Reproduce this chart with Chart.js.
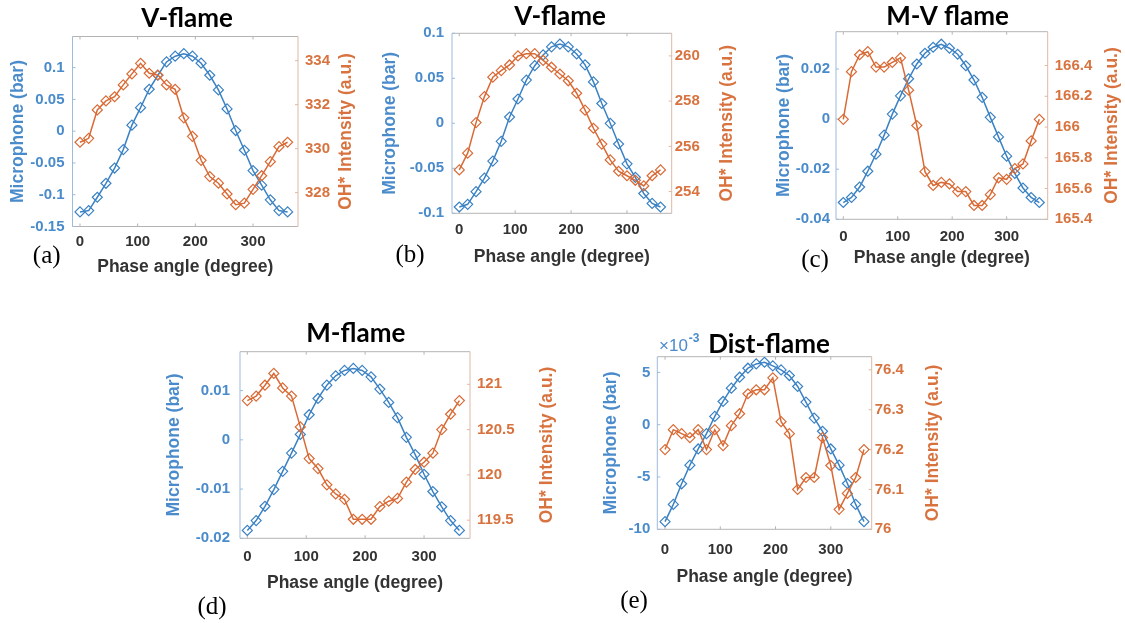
<!DOCTYPE html>
<html>
<head>
<meta charset="utf-8">
<script src="https://cdn.jsdelivr.net/npm/chart.js@4.4.1/dist/chart.umd.min.js"></script>
<style>
  html, body { margin: 0; padding: 0; background: #fff; }
  #wrap { position: relative; width: 1125px; height: 623px; overflow: hidden; background: #fff; }
  #wrap canvas { position: absolute; left: 0; top: 0; }
</style>
</head>
<body>
<div id="wrap">
  <canvas id="pa" width="1125" height="623"></canvas>
  <canvas id="pb" width="1125" height="623"></canvas>
  <canvas id="pc" width="1125" height="623"></canvas>
  <canvas id="pd" width="1125" height="623"></canvas>
  <canvas id="pe" width="1125" height="623"></canvas>
</div>
<script>
// Phase angles of the 25 samples over one acoustic cycle
const phaseDeg = [0, 15, 30, 45, 60, 75, 90, 105, 120, 135, 150, 165, 180, 195, 210, 225, 240, 255, 270, 285, 300, 315, 330, 345, 360];
const phaseTicks = [0, 100, 200, 300];

// (a) V-flame
const micA = [-0.127, -0.125, -0.104, -0.082, -0.058, -0.029, 0.0095, 0.037, 0.066, 0.088, 0.109, 0.118, 0.122, 0.118, 0.107, 0.088, 0.065, 0.035, 0.001, -0.030, -0.062, -0.085, -0.108, -0.125, -0.127];
const ohA = [330.29, 330.47, 331.76, 332.17, 332.36, 332.9, 333.4, 333.88, 333.43, 333.35, 332.9, 332.7, 331.4, 330.56, 329.47, 328.73, 328.43, 327.94, 327.45, 327.52, 328.15, 328.77, 329.41, 330.09, 330.29];
const micTicksA = [-0.15, -0.1, -0.05, 0, 0.05, 0.1];
const ohTicksA = [328, 330, 332, 334];

// (b) V-flame
const micB = [-0.093, -0.090, -0.076, -0.061, -0.042, -0.020, 0.007, 0.027, 0.048, 0.064, 0.076, 0.085, 0.088, 0.085, 0.077, 0.065, 0.046, 0.022, 0.0, -0.023, -0.045, -0.060, -0.078, -0.089, -0.093];
const ohB = [254.96, 255.7, 257.05, 258.2, 259.06, 259.35, 259.6, 260.0, 260.1, 260.1, 259.8, 259.5, 259.2, 258.9, 258.35, 257.6, 256.8, 256.1, 255.4, 254.9, 254.7, 254.5, 254.25, 254.7, 254.96];
const micTicksB = [-0.1, -0.05, 0, 0.05, 0.1];
const ohTicksB = [254, 256, 258, 260];

// (c) M-V flame
const micC = [-0.0333, -0.0313, -0.0271, -0.0208, -0.014, -0.0064, 0.002, 0.0093, 0.0161, 0.022, 0.0263, 0.0287, 0.0299, 0.0283, 0.0259, 0.0213, 0.0156, 0.0087, 0.0007, -0.0071, -0.0148, -0.0217, -0.0275, -0.0313, -0.0333];
const ohC = [166.05, 166.36, 166.47, 166.49, 166.39, 166.39, 166.42, 166.45, 166.24, 166.01, 165.71, 165.62, 165.64, 165.63, 165.58, 165.58, 165.49, 165.49, 165.56, 165.67, 165.66, 165.73, 165.76, 165.91, 166.05];
const micTicksC = [-0.04, -0.02, 0, 0.02];
const ohTicksC = [165.4, 165.6, 165.8, 166, 166.2, 166.4];

// (d) M-flame
const micD = [-0.0184, -0.0164, -0.0135, -0.0101, -0.0064, -0.0027, 0.0011, 0.0051, 0.0084, 0.0111, 0.0130, 0.0141, 0.0145, 0.0141, 0.0128, 0.0103, 0.0076, 0.0045, 0.0005, -0.0030, -0.0070, -0.0105, -0.0136, -0.0164, -0.0184];
const ohD = [120.82, 120.87, 120.99, 121.12, 120.96, 120.87, 120.53, 120.18, 120.07, 119.89, 119.79, 119.73, 119.51, 119.51, 119.51, 119.65, 119.71, 119.74, 119.92, 120.06, 120.14, 120.24, 120.50, 120.67, 120.82];
const micTicksD = [-0.02, -0.01, 0, 0.01];
const ohTicksD = [119.5, 120, 120.5, 121];

// (e) Dist-flame (microphone in bar, labelled in units of 1e-3)
const micE = [-0.00927, -0.00762, -0.00565, -0.00387, -0.00232, -0.00086, 0.00079, 0.00222, 0.00349, 0.00454, 0.00540, 0.00581, 0.00597, 0.00562, 0.00524, 0.00470, 0.00365, 0.00216, 0.00063, -0.00063, -0.00232, -0.00387, -0.00562, -0.00762, -0.00927];
const ohE = [76.20, 76.25, 76.24, 76.23, 76.25, 76.20, 76.25, 76.21, 76.26, 76.29, 76.34, 76.35, 76.35, 76.38, 76.27, 76.24, 76.10, 76.13, 76.13, 76.23, 76.16, 76.05, 76.09, 76.13, 76.20];
const micTicksE = [-0.01, -0.005, 0, 0.005];
const ohTicksE = [76, 76.1, 76.2, 76.3, 76.4];

const panelTitles = ['V-flame', 'V-flame', 'M-V flame', 'M-flame', 'Dist-flame'];
const panelTags = ['(a)', '(b)', '(c)', '(d)', '(e)'];

const W = 1125, H = 623;
const FONT = '"Liberation Sans", Arial, Helvetica, sans-serif';
const TITLE_FONT = 'Lato, "Open Sans", sans-serif';
const BLUE_LINE = '#3b82c4', ORANGE_LINE = '#d96a35';
const BLUE_TXT = '#4a8bcb', ORANGE_TXT = '#d8733f';
const GRAY_TXT = '#333333';
const FRAME_GRAY = '#b4b4b4', FRAME_BLUE = '#9dbbdb', FRAME_ORANGE = '#dcb9a4';

const panels = [
  { id: 'pa', mic: micA, oh: ohA, micTicks: micTicksA, ohTicks: ohTicksA, title: panelTitles[0], tag: panelTags[0],
    xLim: [-13, 378], micLim: [-0.15, 0.149], ohLim: [326.46, 335.1], micScale: 1,
    area: { l: 72.5, r: 298, t: 36.5, b: 226.5 }, outer: { l: 7.8, r: 356.8, b: 277.2 }, pad: { l: 8, r: 7, x: 6.2 },
    titlePos: [187, 27], tagPos: [46.7, 256.7] },
  { id: 'pb', mic: micB, oh: ohB, micTicks: micTicksB, ohTicks: ohTicksB, title: panelTitles[1], tag: panelTags[1],
    xLim: [-13, 380], micLim: [-0.1, 0.1], ohLim: [253.04, 261.0], micScale: 1,
    area: { l: 452, r: 671.7, t: 33.3, b: 213.3 }, outer: { l: 379.5, r: 737.5, b: 267.2 }, pad: { l: 8, r: 3, x: 7.7 },
    titlePos: [560, 25], tagPos: [410, 255] },
  { id: 'pc', mic: micC, oh: ohC, micTicks: micTicksC, ohTicks: ohTicksC, title: panelTitles[2], tag: panelTags[2],
    xLim: [-13.4, 375.4], micLim: [-0.04, 0.0349], ohLim: [165.4, 166.62], micScale: 1,
    area: { l: 836, r: 1047.7, t: 31.7, b: 219.3 }, outer: { l: 773.5, r: 1122.5, b: 268.8 }, pad: { l: 6, r: 7, x: 8.4 },
    titlePos: [947.5, 25], tagPos: [815, 260] },
  { id: 'pd', mic: micD, oh: ohD, micTicks: micTicksD, ohTicks: ohTicksD, title: panelTitles[3], tag: panelTags[3],
    xLim: [-12.4, 378], micLim: [-0.02, 0.0179], ohLim: [119.3, 121.36], micScale: 1,
    area: { l: 240, r: 470, t: 351.7, b: 538.3 }, outer: { l: 163.5, r: 557.5, b: 593.8 }, pad: { l: 10, r: 7, x: 9.4 },
    titlePos: [355.8, 341.7], tagPos: [212, 607.5] },
  { id: 'pe', mic: micE, oh: ohE, micTicks: micTicksE, ohTicks: ohTicksE, title: panelTitles[4], tag: panelTags[4],
    xLim: [-14, 374], micLim: [-0.01, 0.0065], ohLim: [76.0, 76.433], micScale: 1000,
    area: { l: 657.3, r: 871.7, t: 356.7, b: 529.3 }, outer: { l: 600.2, r: 943.5, b: 587.2 }, pad: { l: 7, r: 3, x: 11.7 },
    titlePos: [769, 353], tagPos: [634, 601.7], expPos: [659, 346] }
];

function strokeLine(ctx, x1, y1, x2, y2, color) {
  ctx.strokeStyle = color;
  ctx.beginPath();
  ctx.moveTo(x1, y1);
  ctx.lineTo(x2, y2);
  ctx.stroke();
}

// Axes box, inward tick marks, right-hand axis title, panel title, tag and exponent
const panelDecor = {
  id: 'panelDecor',
  beforeDatasetsDraw(chart, args, o) {
    const { ctx, chartArea: a, scales } = chart;
    ctx.save();
    ctx.lineWidth = 1;
    strokeLine(ctx, a.left, a.top, a.right, a.top, FRAME_GRAY);
    strokeLine(ctx, a.left, a.bottom, a.right, a.bottom, FRAME_GRAY);
    strokeLine(ctx, a.left, a.top, a.left, a.bottom, FRAME_BLUE);
    strokeLine(ctx, a.right, a.top, a.right, a.bottom, FRAME_ORANGE);
    scales.x.ticks.forEach(t => {
      const px = scales.x.getPixelForValue(t.value);
      strokeLine(ctx, px, a.bottom, px, a.bottom - 3, FRAME_GRAY);
      strokeLine(ctx, px, a.top, px, a.top + 3, FRAME_GRAY);
    });
    scales.yMic.ticks.forEach(t => {
      const py = scales.yMic.getPixelForValue(t.value);
      strokeLine(ctx, a.left, py, a.left + 3, py, FRAME_BLUE);
    });
    scales.yOH.ticks.forEach(t => {
      const py = scales.yOH.getPixelForValue(t.value);
      strokeLine(ctx, a.right, py, a.right - 3, py, FRAME_ORANGE);
    });
    ctx.restore();
  },
  afterDraw(chart, args, o) {
    const { ctx, chartArea: a } = chart;
    ctx.save();
    // right axis title, reading bottom to top
    ctx.translate(o.rightTitleX, (a.top + a.bottom) / 2);
    ctx.rotate(-Math.PI / 2);
    ctx.fillStyle = ORANGE_TXT;
    ctx.font = 'bold 17.5px ' + FONT;
    ctx.textAlign = 'center';
    ctx.textBaseline = 'middle';
    ctx.fillText('OH* Intensity (a.u.)', 0, 0);
    ctx.restore();

    ctx.save();
    ctx.fillStyle = '#000';
    ctx.font = 'bold 26px ' + TITLE_FONT;
    ctx.textAlign = 'center';
    ctx.textBaseline = 'alphabetic';
    ctx.fillText(o.title, o.titlePos[0], o.titlePos[1]);

    ctx.font = '25px "Liberation Serif", "Times New Roman", serif';
    ctx.textBaseline = 'middle';
    ctx.fillText(o.tag, o.tagPos[0], o.tagPos[1]);

    if (o.expPos) {
      ctx.fillStyle = BLUE_TXT;
      ctx.textAlign = 'left';
      ctx.font = '17px ' + FONT;
      ctx.fillText('\u00d710', o.expPos[0], o.expPos[1]);
      const w = ctx.measureText('\u00d710').width;
      ctx.font = 'bold 12px ' + FONT;
      ctx.fillText('-3', o.expPos[0] + w + 1, o.expPos[1] - 7);
    }
    ctx.restore();
  }
};

function buildPanel(p) {
  const tickFont = { family: FONT, size: 15, weight: 'bold' };
  const axisTitleFont = { family: FONT, size: 17.5, weight: 'bold' };
  const seriesStyle = (color) => ({
    borderColor: color,
    borderWidth: 1.5,
    pointStyle: 'rectRot',
    pointRadius: 5,
    pointBorderWidth: 1.2,
    pointBorderColor: color,
    pointBackgroundColor: 'rgba(255,255,255,0)',
    tension: 0,
    fill: false
  });
  return new Chart(document.getElementById(p.id), {
    type: 'line',
    data: {
      datasets: [
        Object.assign({ label: 'OH* Intensity', yAxisID: 'yOH',
          data: phaseDeg.map((x, i) => ({ x, y: p.oh[i] })) }, seriesStyle(ORANGE_LINE)),
        Object.assign({ label: 'Microphone', yAxisID: 'yMic',
          data: phaseDeg.map((x, i) => ({ x, y: p.mic[i] })) }, seriesStyle(BLUE_LINE))
      ]
    },
    options: {
      responsive: false,
      animation: false,
      devicePixelRatio: 1,
      events: [],
      layout: { padding: { left: p.outer.l, right: W - p.outer.r, top: p.area.t, bottom: H - p.outer.b } },
      plugins: {
        legend: { display: false },
        tooltip: { enabled: false },
        panelDecor: { title: p.title, tag: p.tag, titlePos: p.titlePos, tagPos: p.tagPos,
          expPos: p.expPos, rightTitleX: p.outer.r - 10.5 }
      },
      scales: {
        x: {
          type: 'linear', position: 'bottom', bounds: 'data',
          min: p.xLim[0], max: p.xLim[1],
          afterBuildTicks: s => { s.ticks = phaseTicks.map(v => ({ value: v })); },
          afterFit: s => { s.height = p.outer.b - p.area.b; },
          grid: { display: false, drawTicks: false },
          border: { display: false },
          ticks: { color: GRAY_TXT, font: tickFont, padding: p.pad.x, maxRotation: 0, autoSkip: false,
            callback: v => String(v) },
          title: { display: true, text: 'Phase angle (degree)', color: GRAY_TXT, font: axisTitleFont, padding: 0 }
        },
        yMic: {
          type: 'linear', position: 'left', bounds: 'data',
          min: p.micLim[0], max: p.micLim[1],
          afterBuildTicks: s => { s.ticks = p.micTicks.map(v => ({ value: v })); },
          afterFit: s => { s.width = p.area.l - p.outer.l; },
          grid: { display: false, drawTicks: false },
          border: { display: false },
          ticks: { color: BLUE_TXT, font: tickFont, padding: p.pad.l, autoSkip: false,
            callback: v => String(+(v * p.micScale).toFixed(4)) },
          title: { display: true, text: 'Microphone (bar)', color: BLUE_TXT, font: axisTitleFont, padding: 0 }
        },
        yOH: {
          type: 'linear', position: 'right', bounds: 'data',
          min: p.ohLim[0], max: p.ohLim[1],
          afterBuildTicks: s => { s.ticks = p.ohTicks.map(v => ({ value: v })); },
          afterFit: s => { s.width = p.outer.r - p.area.r; },
          grid: { display: false, drawTicks: false },
          border: { display: false },
          ticks: { color: ORANGE_TXT, font: tickFont, padding: p.pad.r, autoSkip: false,
            callback: v => String(+v.toFixed(2)) },
          title: { display: false }
        }
      }
    },
    plugins: [panelDecor]
  });
}

panels.forEach(buildPanel);
</script>
</body>
</html>
